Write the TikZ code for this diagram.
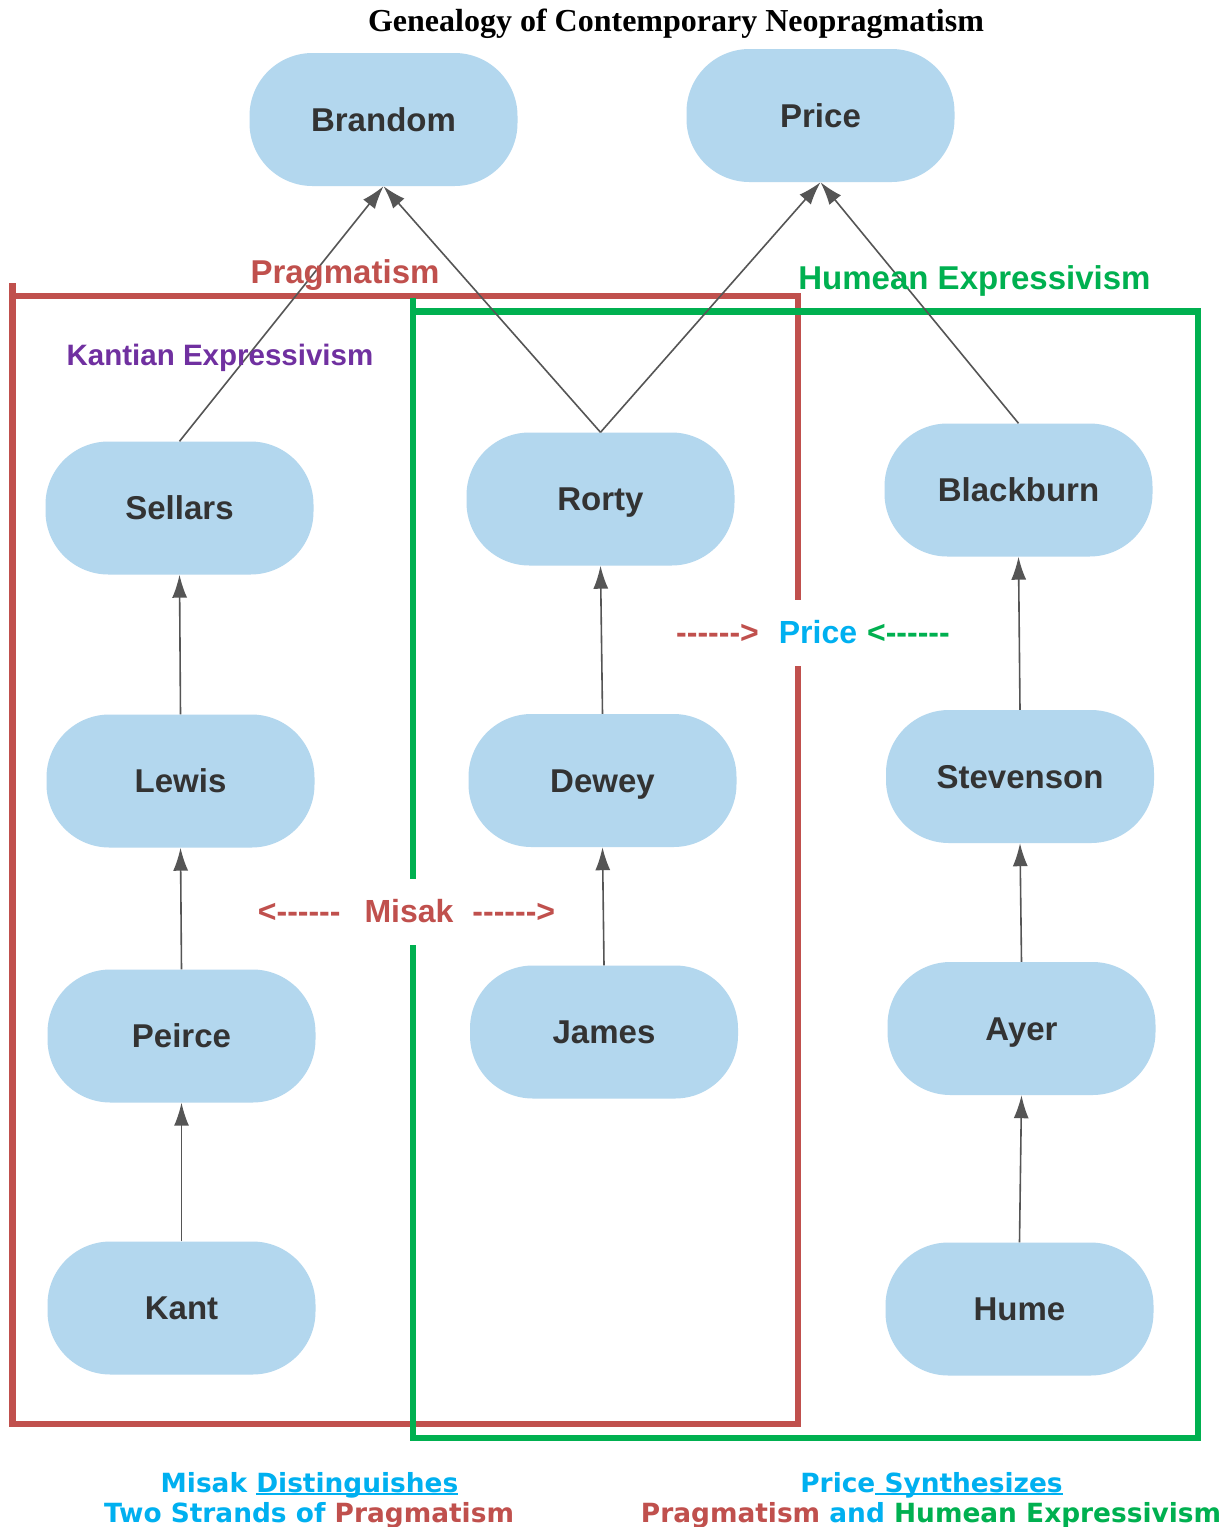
\documentclass[tikz,border=0pt]{standalone}
\usepackage{fontspec}
\usetikzlibrary{arrows.meta}
\newfontfamily\lsans{Liberation Sans}
\newfontfamily\lserif{Liberation Serif}
\newfontfamily\dvs{DejaVu Sans}
\definecolor{pred}{HTML}{C0504D}
\definecolor{pgreen}{HTML}{00B050}
\definecolor{pblue}{HTML}{00B0F0}
\definecolor{ppurple}{HTML}{7030A0}
\definecolor{nodeblue}{HTML}{B3D7EE}
\definecolor{edgegray}{HTML}{555555}
\definecolor{textgray}{HTML}{333333}
\newcommand\myul[1]{\setbox0=\hbox{#1}\rlap{\rule[-3pt]{\wd0}{1.8pt}}\box0}
\newcommand\sixdash{-{}-{}-{}-{}-{}-{}}
\begin{document}
\begin{tikzpicture}[x=1pt,y=-1pt,
  pn/.style={rectangle, rounded corners=63pt, fill=nodeblue, minimum width=268pt, minimum height=133pt,
    inner sep=0pt, text height=23pt, text depth=0pt, text=textgray,
    font=\lsans\bfseries\fontsize{33}{40}\selectfont},
  edgeline/.style={draw=edgegray, line width=1.6pt, -{Latex[length=23pt,width=15pt]}},
  lab/.style={anchor=base, inner sep=0pt, font=\lsans\bfseries\fontsize{33}{40}\selectfont},
  midlab/.style={anchor=base, fill=white, inner xsep=4pt, inner ysep=19pt, text height=24pt, text depth=4pt,
    font=\lsans\bfseries\fontsize{32}{38}\selectfont},
  bt/.style={anchor=base, inner sep=0pt, text=pblue, font=\dvs\bfseries\fontsize{26.4}{30}\selectfont},
  boxline/.style={line width=6.5pt, line join=miter}
]
\fill[white] (0,0) rectangle (1227,1527);
\useasboundingbox (0,0) rectangle (1227,1527);

% cluster boxes
\draw[boxline, pred] (12.5,283) -- (12.5,1424) -- (798,1424) -- (798,296) -- (9.25,296);
\draw[boxline, pgreen] (413,297.5) -- (413,1438) -- (1198,1438) -- (1198,311.5) -- (409.75,311.5);

% nodes
\node[pn] (brandom) at (383.5,119.5) {Brandom};
\node[pn] (price) at (820.5,115.5) {Price};
\node[pn] (sellars) at (179.5,508) {Sellars};
\node[pn] (rorty) at (600.5,499) {Rorty};
\node[pn] (blackburn) at (1018.5,490) {Blackburn};
\node[pn] (lewis) at (180.5,781) {Lewis};
\node[pn] (dewey) at (602.5,780.5) {Dewey};
\node[pn] (stevenson) at (1020,776.5) {Stevenson};
\node[pn] (peirce) at (181.5,1036) {Peirce};
\node[pn] (james) at (604,1032) {James};
\node[pn] (ayer) at (1021.5,1028.5) {Ayer};
\node[pn] (kant) at (181.5,1308) {Kant};
\node[pn] (hume) at (1019.5,1309) {Hume};

% edges
\draw[edgeline] (sellars.north) -- (brandom.south);
\draw[edgeline] (rorty.north) -- (brandom.south);
\draw[edgeline] (rorty.north) -- (price.south);
\draw[edgeline] (blackburn.north) -- (price.south);
\draw[edgeline] (lewis.north) -- (sellars.south);
\draw[edgeline] (dewey.north) -- (rorty.south);
\draw[edgeline] (stevenson.north) -- (blackburn.south);
\draw[edgeline] (peirce.north) -- (lewis.south);
\draw[edgeline] (james.north) -- (dewey.south);
\draw[edgeline] (ayer.north) -- (stevenson.south);
\draw[edgeline] (kant.north) -- (peirce.south);
\draw[edgeline] (hume.north) -- (ayer.south);

% labels
\node[anchor=base, inner sep=0pt, font=\lserif\bfseries\fontsize{32}{38}\selectfont] (title) at (676,31.5) {Genealogy of Contemporary Neopragmatism};
\node[lab, text=pred] (lprag) at (345,283) {Pragmatism};
\node[lab, text=pgreen] (lhume) at (974.5,289) {Humean Expressivism};
\node[lab, text=ppurple, font=\lsans\bfseries\fontsize{29.5}{36}\selectfont] (lkant) at (220,365) {Kantian Expressivism};
\node[midlab] (lprice) at (813,643) {{\color{pred}\sixdash>}\hspace{20pt}{\color{pblue}Price}\hspace{10pt}{\color{pgreen}<\sixdash}};
\node[midlab] (lmisak) at (406.5,922) {{\color{pred}<\sixdash}\hspace{24pt}{\color{pred}Misak}\hspace{19pt}{\color{pred}\sixdash>}};

% bottom captions
\node[bt] (cap1) at (309.5,1492) {Misak \myul{Distinguishes}};
\node[bt] (cap2) at (309,1522) {Two Strands of {\color{pred}Pragmatism}};
\node[bt] (cap3) at (931.5,1492) {Price\myul{\ Synthesizes}};
\node[bt] (cap4) at (931,1522) {{\color{pred}Pragmatism} and {\color{pgreen}Humean Expressivism}};
\end{tikzpicture}
\end{document}
